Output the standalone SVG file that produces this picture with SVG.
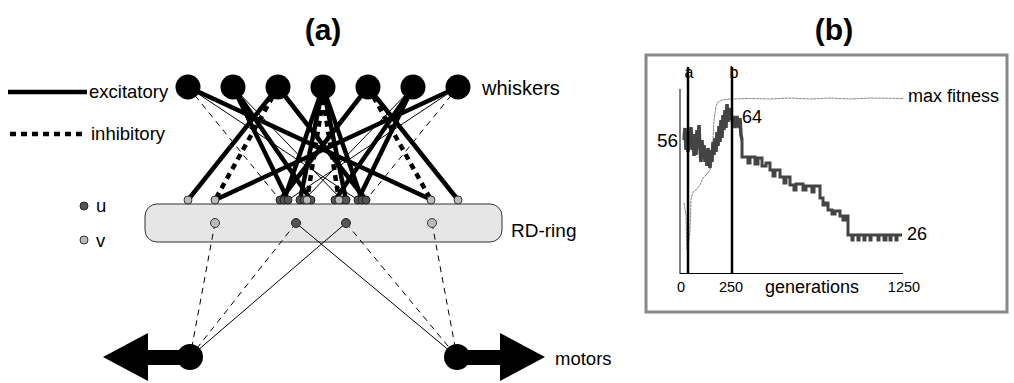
<svg xmlns="http://www.w3.org/2000/svg" width="1014" height="383" viewBox="0 0 1014 383">
<style>
text{font-family:"Liberation Sans",Arial,sans-serif;fill:#000}
.ex{stroke:#000;stroke-width:4.5;fill:none}
.in{stroke:#000;stroke-width:4.5;stroke-dasharray:6 5;fill:none}
.ts{stroke:#000;stroke-width:1;fill:none}
.td{stroke:#000;stroke-width:1;stroke-dasharray:6 5;fill:none}
.wh{fill:#000}
.u{fill:#555;stroke:#222;stroke-width:1}
.v{fill:#bbb;stroke:#333;stroke-width:1}
.lbl{font-size:19px}
</style>
<rect width="1014" height="383" fill="#fff"/>
<!-- titles -->
<text x="323" y="40" font-size="30" font-weight="bold" text-anchor="middle">(a)</text>
<text x="834" y="40" font-size="30" font-weight="bold" text-anchor="middle">(b)</text>

<!-- legend -->
<g id="legend">
<line x1="8" y1="92" x2="87" y2="92" class="ex"/>
<text x="89" y="98" font-size="18.5">excitatory</text>
<line x1="10" y1="134" x2="86" y2="134" class="in"/>
<text x="91" y="140" font-size="18.5">inhibitory</text>
<circle cx="84" cy="206" r="4" class="u"/>
<text x="96" y="212" font-size="18.5">u</text>
<circle cx="84" cy="240" r="4" class="v"/>
<text x="96" y="247" font-size="18.5">v</text>
</g>

<!-- RD ring -->
<g id="rd-ring">
<rect x="145" y="204" width="357" height="38" rx="12" fill="#e6e6e6" stroke="#333" stroke-width="1"/>
<text x="511" y="237" class="lbl">RD-ring</text>
</g>

<!-- connectors -->
<g id="connectors">
<line x1="188" y1="87" x2="432" y2="200" class="ex"/>
<line x1="233" y1="87" x2="288" y2="200" class="ex"/>
<line x1="233" y1="87" x2="311" y2="200" class="ex"/>
<line x1="278" y1="87" x2="188" y2="200" class="ex"/>
<line x1="278" y1="87" x2="366" y2="200" class="ex"/>
<line x1="323" y1="87" x2="284" y2="200" class="ex"/>
<line x1="323" y1="87" x2="300" y2="200" class="ex"/>
<line x1="323" y1="87" x2="346" y2="200" class="ex"/>
<line x1="323" y1="87" x2="362" y2="200" class="ex"/>
<line x1="368" y1="87" x2="280" y2="200" class="ex"/>
<line x1="368" y1="87" x2="458" y2="200" class="ex"/>
<line x1="413" y1="87" x2="335" y2="200" class="ex"/>
<line x1="413" y1="87" x2="358" y2="200" class="ex"/>
<line x1="458" y1="87" x2="215" y2="200" class="ex"/>
<line x1="278" y1="87" x2="215" y2="200" class="in"/>
<line x1="368" y1="87" x2="431" y2="200" class="in"/>
<line x1="323" y1="99" x2="307" y2="200" class="in"/>
<line x1="323" y1="99" x2="339" y2="200" class="in"/>
<line x1="188" y1="87" x2="358" y2="200" class="ts"/>
<line x1="458" y1="87" x2="288" y2="200" class="ts"/>
<line x1="233" y1="87" x2="342" y2="200" class="ts"/>
<line x1="413" y1="87" x2="304" y2="200" class="ts"/>
<line x1="188" y1="87" x2="280" y2="200" class="td"/>
<line x1="458" y1="87" x2="366" y2="200" class="td"/>
<!-- ring to motors -->
<line x1="215" y1="223" x2="190" y2="357" class="td"/>
<line x1="296" y1="223" x2="190" y2="357" class="td"/>
<line x1="346" y1="223" x2="190" y2="357" class="ts"/>
<line x1="296" y1="223" x2="457" y2="357" class="ts"/>
<line x1="346" y1="223" x2="457" y2="357" class="td"/>
<line x1="432" y1="223" x2="457" y2="357" class="td"/>
</g>

<!-- whiskers -->
<g id="whiskers">
<circle cx="188" cy="87" r="12.5" class="wh"/>
<circle cx="233" cy="87" r="12.5" class="wh"/>
<circle cx="278" cy="87" r="12.5" class="wh"/>
<circle cx="323" cy="87" r="12.5" class="wh"/>
<circle cx="368" cy="87" r="12.5" class="wh"/>
<circle cx="413" cy="87" r="12.5" class="wh"/>
<circle cx="458" cy="87" r="12.5" class="wh"/>
<text x="482" y="95" font-size="20">whiskers</text>
</g>

<!-- ring input nodes -->
<g id="ring-inputs">
<circle cx="188" cy="200" r="4" class="v"/>
<circle cx="215" cy="200" r="4" class="v"/>
<circle cx="280" cy="200" r="4" class="u"/>
<circle cx="284" cy="200" r="4" class="u"/>
<circle cx="288" cy="200" r="4" class="u"/>
<circle cx="300" cy="200" r="4" class="u"/>
<circle cx="304" cy="200" r="4" class="u"/>
<circle cx="311" cy="200" r="4" class="u"/>
<circle cx="307" cy="200" r="4" class="v"/>
<circle cx="335" cy="200" r="4" class="u"/>
<circle cx="342" cy="200" r="4" class="u"/>
<circle cx="346" cy="200" r="4" class="u"/>
<circle cx="339" cy="200" r="4" class="v"/>
<circle cx="358" cy="200" r="4" class="u"/>
<circle cx="362" cy="200" r="4" class="u"/>
<circle cx="366" cy="200" r="4" class="u"/>
<circle cx="431" cy="200" r="4" class="v"/>
<circle cx="458" cy="200" r="4" class="v"/>
</g>

<!-- ring nodes -->
<g id="ring-nodes">
<circle cx="215" cy="223" r="4.5" class="v"/>
<circle cx="296" cy="223" r="4.5" class="u"/>
<circle cx="346" cy="223" r="4.5" class="u"/>
<circle cx="432" cy="223" r="4.5" class="v"/>
</g>

<!-- motors -->
<g id="motor-left">
<rect x="146" y="350" width="44" height="15" fill="#000"/>
<polygon points="148,333 103,357 148,381" fill="#000"/>
<circle cx="190" cy="357" r="13" fill="#000"/>
</g>
<g id="motor-right">
<rect x="457" y="350" width="45" height="15" fill="#000"/>
<polygon points="500,333 545,357 500,381" fill="#000"/>
<circle cx="457" cy="357" r="13" fill="#000"/>
<text x="555" y="365" font-size="18.5">motors</text>
</g>

<!-- panel b -->
<g id="plot">
<rect x="646" y="55" width="361" height="257" fill="#fff" stroke="#888" stroke-width="3"/>
<line x1="680" y1="89" x2="680" y2="274" stroke="#000" stroke-width="1"/>
<line x1="680" y1="273.5" x2="903" y2="273.5" stroke="#000" stroke-width="1"/>
<polyline fill="none" stroke="#888" stroke-width="1" stroke-dasharray="3 0.6" points="684,203 686,215 687,250 689,240 690,232 691,200 693,192 696,190 700,185 703,178 707,174 710,170 712,160 713,140 714,120 716,106 718,102 722,100 730,99 750,98.5 770,99 790,98 810,99 830,98 850,99 870,98 903,98.5"/>
<polyline fill="none" stroke="#444" stroke-width="3.5" points="684,140 685,128 686,150 687,133 688,152 689,135 690,145 691,127 692,150 693,138 694,156 695,134 696,155 697,130 698,148 699,125 700,150 701,162 702,140 703,157 704,145 705,162 706,150 707,166 708,148 709,160 710,168 711,150 712,162 713,142 714,155 715,138 716,152 717,132 718,146 719,126 720,142 721,120 722,138 723,115 724,130 725,110 726,128 727,104 728,122 729,108 730,120 731,112 733,126 734,116 735,128 737,116 739,128 740,118 741,135 742,140"/>
<path fill="none" stroke="#444" stroke-width="3" d="M742,140 V157 H748 V163 H750 V157 H755 V164 H758 V158 H762 V166 H766 V163 H770 V170 H773 V176 H775 V170 H780 V177 H784 V183 H786 V177 H790 V185 H794 V190 H796 V184 H803 V190 H806 V186 H812 V192 H814 V186 H820 V198 H823 V205 H826 V203 H828 V210 H832 V214 H835 V211 H840 V216 H843 V220 H846 V216 H848 V235 H852 V240 H853 V235 H858 V240 H859 V235 H864 V240 H865 V235 H870 V240 H871 V235 H878 V240 H879 V235 H884 V240 H886 V235 H890 V240 H891 V235 H896 V240 H897 V235 H902"/>
<line x1="688" y1="67" x2="688" y2="274" stroke="#000" stroke-width="2.5"/>
<line x1="732" y1="67" x2="732" y2="274" stroke="#000" stroke-width="2.5"/>
<text x="689" y="78" font-size="16" text-anchor="middle">a</text>
<text x="734" y="78" font-size="16" text-anchor="middle">b</text>
<text x="657" y="147" font-size="19">56</text>
<text x="742" y="123" font-size="18">64</text>
<text x="907" y="240" font-size="18">26</text>
<text x="908" y="102" font-size="18">max fitness</text>
<text x="681" y="292" font-size="14.5" text-anchor="middle">0</text>
<text x="731" y="292" font-size="14.5" text-anchor="middle">250</text>
<text x="904" y="292" font-size="14.5" text-anchor="middle">1250</text>
<text x="765" y="293" font-size="18">generations</text>
</g>
</svg>
